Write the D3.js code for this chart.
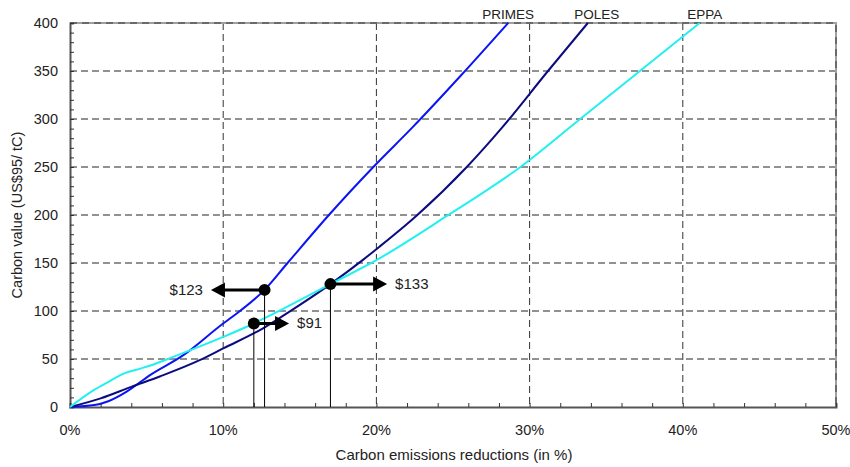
<!DOCTYPE html>
<html>
<head>
<meta charset="utf-8">
<script src="https://cdn.jsdelivr.net/npm/d3@7"></script>
<style>
  body { margin: 0; background: #fff; }
  text { font-family: Arial, "Liberation Sans", sans-serif; fill: #222; }
</style>
</head>
<body>
<svg width="850" height="467"></svg>
<script>
// carbon emission reductions (%) vs carbon value
var primesX = [0, 1.6, 2.5, 3.7, 5.2, 7.4, 10, 10.6, 12.7, 14.2, 16.9, 19.8, 22.4, 25.5, 28.6];
var primesY = [0, 2, 6, 16, 33, 54, 87, 94, 122, 150, 200, 250, 292, 345, 400];

var polesX = [0, 2, 4, 5.9, 8.5, 10, 12.6, 14, 17, 19.1, 20.2, 22.6, 25.9, 28.2, 31.2, 33.8];
var polesY = [0, 9, 21, 32, 49, 61, 82, 96, 128, 153, 167, 199, 250, 291, 350, 400];

var eppaX = [0, 1.6, 2.6, 3.4, 4.6, 5.2, 6.7, 10, 12, 14, 17, 20, 24.6, 29.4, 33.3, 37.2, 41.1];
var eppaY = [0, 18, 27, 34, 40, 43, 52, 73, 87, 103, 128, 153, 199, 250, 300, 350, 400];

var seriesNames = ["PRIMES", "POLES", "EPPA"];

// marked points: x, y, arrow end x, label
var markX = [12.7, 12.0, 17.0];
var markY = [122, 87, 128];
var markArrowTo = [9.2, 14.3, 20.7];
var markLabels = ["$123", "$91", "$133"];

var xTicks = [0, 10, 20, 30, 40, 50];
var yTicks = [0, 50, 100, 150, 200, 250, 300, 350, 400];

var svg = d3.select("svg"),
    pL = 70, pR = 836, pT = 23, pB = 407;

var x = d3.scaleLinear().domain([0, 50]).range([pL, pR]);
var y = d3.scaleLinear().domain([0, 400]).range([pB, pT]);

var colors = ["#0a14f5", "#0c0c80", "#22f0f0"];

// grid
svg.append("g").selectAll("line")
  .data(yTicks.slice(1, -1))
  .enter().append("line")
    .attr("x1", pL).attr("x2", pR)
    .attr("y1", function(d) { return y(d); }).attr("y2", function(d) { return y(d); })
    .attr("stroke", "#6e6e6e").attr("stroke-width", 1.5)
    .attr("stroke-dasharray", "7,4");

svg.append("g").selectAll("line")
  .data(xTicks.slice(1, -1))
  .enter().append("line")
    .attr("x1", function(d) { return x(d); }).attr("x2", function(d) { return x(d); })
    .attr("y1", pT).attr("y2", pB)
    .attr("stroke", "#333").attr("stroke-width", 1)
    .attr("stroke-dasharray", "7,4");

// top and right border
svg.append("path")
  .attr("d", "M" + pL + "," + pT + "H" + pR + "V" + pB)
  .attr("fill", "none").attr("stroke", "#a0a0a0").attr("stroke-width", 2);
svg.append("path")
  .attr("d", "M" + pL + "," + pT + "H" + pR + "V" + pB)
  .attr("fill", "none").attr("stroke", "#6a6a6a").attr("stroke-width", 2)
  .attr("stroke-dasharray", "7,5");

// axes
var yAxis = d3.axisLeft(y).tickValues(d3.range(0, 401, 10)).tickSize(-4).tickFormat("");
var gy = svg.append("g").attr("transform", "translate(" + pL + ",0)").call(yAxis);
var xAxis = d3.axisBottom(x).tickValues(d3.range(0, 51, 2)).tickSize(-4).tickFormat("");
var gx = svg.append("g").attr("transform", "translate(0," + pB + ")").call(xAxis);
[gx, gy].forEach(function(g) {
  g.select(".domain").attr("stroke", "#555").attr("stroke-width", 2);
  g.selectAll(".tick line").attr("stroke", "#333");
});

svg.append("g").selectAll("text")
  .data(yTicks)
  .enter().append("text")
    .attr("x", pL - 12).attr("y", function(d) { return y(d) + 5; })
    .attr("text-anchor", "end").attr("font-size", 14.5)
    .text(function(d) { return d; });

svg.append("g").selectAll("text")
  .data(xTicks)
  .enter().append("text")
    .attr("x", function(d) { return x(d); }).attr("y", pB + 28)
    .attr("text-anchor", "middle").attr("font-size", 14.5)
    .text(function(d) { return d + "%"; });

svg.append("text")
  .attr("x", (pL + pR) / 2 + 1).attr("y", 460)
  .attr("text-anchor", "middle").attr("font-size", 15)
  .text("Carbon emissions reductions (in %)");

svg.append("text")
  .attr("transform", "translate(22," + ((pT + pB) / 2) + ") rotate(-90)")
  .attr("text-anchor", "middle").attr("font-size", 14.5)
  .text("Carbon value (US$95/ tC)");

// curves
var line = d3.line()
  .x(function(d) { return x(d[0]); })
  .y(function(d) { return y(d[1]); })
  .curve(d3.curveMonotoneX);

var series = [d3.zip(primesX, primesY), d3.zip(polesX, polesY), d3.zip(eppaX, eppaY)];
var labelShift = [0, 9, 5];

series.forEach(function(s, i) {
  svg.append("path")
    .datum(s)
    .attr("d", line)
    .attr("fill", "none")
    .attr("stroke", colors[i])
    .attr("stroke-width", 2);
  var last = s[s.length - 1];
  svg.append("text")
    .attr("x", x(last[0]) + labelShift[i]).attr("y", pT - 4)
    .attr("text-anchor", "middle").attr("font-size", 13.5)
    .text(seriesNames[i]);
});

// marked points with arrows
var marks = d3.range(markX.length).map(function(i) {
  return { x: markX[i], y: markY[i], to: markArrowTo[i], label: markLabels[i] };
});

var mg = svg.append("g").selectAll("g").data(marks).enter().append("g");

mg.append("line")
  .attr("x1", function(d) { return x(d.x); }).attr("x2", function(d) { return x(d.x); })
  .attr("y1", function(d) { return y(d.y); }).attr("y2", pB)
  .attr("stroke", "#000").attr("stroke-width", 1);

mg.append("line")
  .attr("x1", function(d) { return x(d.x); })
  .attr("x2", function(d) { var dir = d.to > d.x ? 1 : -1; return x(d.to) - dir * 10; })
  .attr("y1", function(d) { return y(d.y); }).attr("y2", function(d) { return y(d.y); })
  .attr("stroke", "#000").attr("stroke-width", 3);

mg.append("path")
  .attr("d", function(d) {
    var dir = d.to > d.x ? 1 : -1, tx = x(d.to), ty = y(d.y);
    return "M" + tx + "," + ty + "L" + (tx - dir * 14) + "," + (ty - 7.5) + "L" + (tx - dir * 14) + "," + (ty + 7.5) + "Z";
  })
  .attr("fill", "#000");

mg.append("circle")
  .attr("cx", function(d) { return x(d.x); }).attr("cy", function(d) { return y(d.y); })
  .attr("r", 6).attr("fill", "#000");

mg.append("text")
  .attr("x", function(d) { return d.to > d.x ? x(d.to) + 8 : x(d.to) - 8; })
  .attr("y", function(d) { return y(d.y) + 5; })
  .attr("text-anchor", function(d) { return d.to > d.x ? "start" : "end"; })
  .attr("font-size", 15)
  .text(function(d) { return d.label; });
</script>
</body>
</html>
